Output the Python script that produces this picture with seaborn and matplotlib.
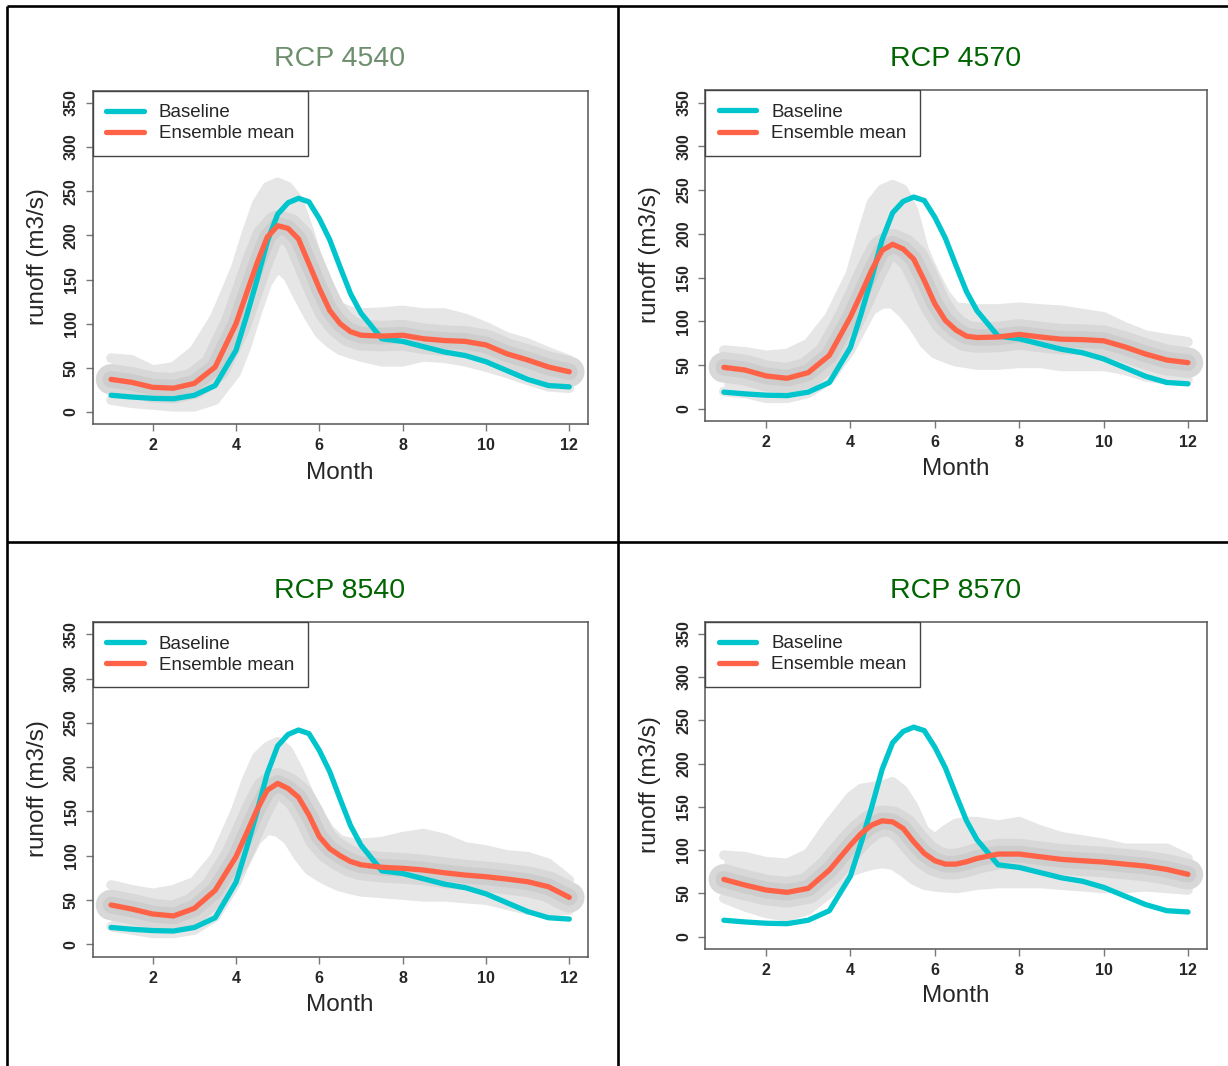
import matplotlib
matplotlib.use("Agg")
import matplotlib.pyplot as plt
from matplotlib.lines import Line2D
import seaborn as sns
import numpy as np

# Monthly grid (finer around the snow-melt peak)
months = [1, 1.5, 2, 2.5, 3, 3.5, 4, 4.25, 4.5, 4.75, 5, 5.25, 5.5, 5.75,
          6, 6.25, 6.5, 6.75, 7, 7.5, 8, 8.5, 9, 9.5, 10, 10.5, 11, 11.5, 12]

# Observed baseline runoff (m3/s)
baseline = [19, 17, 15.5, 15, 19, 30, 70, 108, 149, 193, 224, 237, 242, 238,
            219, 195, 164, 134, 112, 83, 80, 74, 68, 64, 57, 47, 37, 30, 28.5]

# RCP 4.5, 2040s
mean_4540 = [37, 33.6, 28, 27, 32.4, 51, 100, 134, 168, 198, 211, 208, 196, 168,
             140, 115, 100, 91, 87, 86, 87, 83, 81, 80, 76, 66, 59, 51, 45.6]
hi_4540 = [61, 59, 47.5, 51, 70, 108, 164, 202, 236, 255, 260, 255, 240, 206,
           168, 138, 119, 114, 112, 113, 115, 112, 112, 106, 96.5, 85, 78, 68, 59]
lo_4540 = [13.6, 10, 8, 6, 6, 13.6, 44, 74, 112, 146, 164, 153, 130, 108,
           89, 78, 70, 66, 62.5, 57, 57, 62.5, 61, 57, 51, 44, 36, 28.6, 27]

# RCP 4.5, 2070s
mean_4570 = [47.3, 44.3, 37.5, 34.8, 41.3, 61, 105, 131, 158, 181, 188, 182.6, 171, 146.6,
             120, 101, 90, 83, 81.4, 82, 85, 82, 79.5, 79, 77.7, 70.8, 62.5, 55.7, 52.7]
hi_4570 = [67, 65, 61, 63, 74.6, 105, 154, 196, 235.6, 250.8, 256, 250.8, 226, 181,
           154, 131, 116, 115, 114, 114, 116, 114, 112.5, 108.7, 105, 93.6, 84, 80, 76.5]
lo_4570 = [19.7, 17.8, 12, 12, 17.8, 33, 67, 90, 112.5, 120, 120, 108.7, 93.6, 74.6,
           63, 58, 53.8, 52, 50, 50, 52, 52, 48.5, 48.5, 48.5, 44.3, 36.7, 33, 33]

# RCP 8.5, 2040s
mean_8540 = [44.4, 39.8, 34.2, 32, 40.6, 61, 98.9, 125, 151.6, 174, 181.7, 176, 166, 146,
             121.5, 108, 100, 93.5, 89.8, 87, 85.8, 83.9, 80.8, 78.2, 76.3, 73.7, 70.7, 65, 53]
hi_8540 = [67, 61.5, 57.5, 61.5, 70.7, 98.9, 151.6, 185, 211.7, 223, 228.7, 219, 196.7, 170.4,
           147.8, 129, 117.7, 115, 114, 115.8, 121.4, 125, 119.6, 110, 106.4, 100.8, 98.9, 91.4, 72.6]
lo_8540 = [19.9, 16.2, 12.4, 12.4, 16.2, 31, 68.8, 95, 117.7, 129, 127, 117.7, 98.9, 83.9,
           76.3, 70, 65, 62, 59.4, 57.5, 55.6, 53.7, 53.7, 51.8, 50, 44.4, 38.7, 36.8, 38.7]

# RCP 8.5, 2070s
mean_8570 = [66.2, 59.6, 53.9, 51.2, 55.8, 76.9, 105.8, 119, 128.8, 133.8, 132.6, 125, 109.6, 96.2,
             87.7, 83.8, 83.8, 86.5, 90.4, 95.4, 95.4, 92.3, 89.3, 87.7, 86.2, 83.8, 81.5, 77.7, 72]
hi_8570 = [94, 92.3, 86.5, 84.6, 96.2, 130.8, 161.5, 171, 173, 175, 178.8, 169, 150, 123,
           113.5, 123, 130.8, 132.8, 132.8, 128.8, 132.8, 123, 115.3, 111.5, 107.7, 102, 102, 102, 90.4]
lo_8570 = [44.3, 34.6, 27, 23, 30.8, 50, 75, 78.9, 82.7, 84.6, 82.7, 75, 65.4, 59.6,
           57.7, 56.5, 55.8, 57.5, 59.6, 61.5, 61.5, 61.5, 59.6, 57.7, 55.8, 55.8, 57.7, 55.8, 53.9]

titles = ["RCP 4540", "RCP 4570", "RCP 8540", "RCP 8570"]
title_colors = ["#6E8F6E", "#006400", "#006400", "#006400"]
means = [mean_4540, mean_4570, mean_8540, mean_8570]
his = [hi_4540, hi_4570, hi_8540, hi_8570]
los = [lo_4540, lo_4570, lo_8540, lo_8570]

y_ticks = [0, 50, 100, 150, 200, 250, 300, 350]
x_ticks = [2, 4, 6, 8, 10, 12]

CYAN = "#00C5CD"
TOMATO = "#FF6347"

sns.set_style("white")
plt.rcParams["font.family"] = ["Liberation Sans", "DejaVu Sans"]

W, H = 1228, 1066
fig = plt.figure(figsize=(W / 100, H / 100), dpi=100)
fig.patch.set_facecolor("white")


def fx(px):
    return px / W


def fy(py):
    return 1 - py / H


# panel layout in pixels: (left, right, top, bottom)
boxes = [(92.7, 587.6, 90.6, 424.4),
         (705.3, 1206.5, 90.3, 421.0),
         (92.7, 587.6, 622.0, 956.7),
         (705.3, 1206.5, 621.5, 948.8)]
title_pos = [(340, 59), (956, 59), (340, 591), (956, 591)]
month_pos = [(340, 473), (956, 469), (340, 1005), (956, 996)]
ylab_pos = [(38, 257), (650, 255), (38, 789), (650, 785)]

round_kw = dict(solid_capstyle="round", solid_joinstyle="round")

for i in range(4):
    l, r, t, b = boxes[i]
    ax = fig.add_axes([fx(l), fy(b), fx(r) - fx(l), (b - t) / H])

    # ensemble spread: light envelope with a darker core along the mean
    ax.fill_between(months, los[i], his[i], color="#E6E6E6", lw=0, zorder=1)
    for edge in (los[i], his[i]):
        ax.plot(months, edge, color="#E6E6E6", lw=7, zorder=1, **round_kw)
    ax.plot(months, means[i], color="#D8D8D8", lw=22, zorder=2, **round_kw)
    ax.plot(months, means[i], color="#CDCDCD", lw=12, zorder=2, **round_kw)

    sns.lineplot(x=months, y=baseline, ax=ax, color=CYAN, lw=3.8,
                 estimator=None, sort=False, label="Baseline", zorder=4)
    sns.lineplot(x=months, y=means[i], ax=ax, color=TOMATO, lw=3.8,
                 estimator=None, sort=False, label="Ensemble mean", zorder=5)
    for ln in ax.get_lines()[-2:]:
        ln.set_solid_joinstyle("round")

    ax.set_xlim(0.56, 12.44)
    ax.set_ylim(-14, 364)
    ax.set_xticks(x_ticks)
    ax.set_xticklabels([str(v) for v in x_ticks], fontsize=11.5, fontweight="bold")
    ax.set_yticks(y_ticks)
    ax.set_yticklabels([str(v) for v in y_ticks], fontsize=11.5, fontweight="bold",
                       rotation=90, va="center")
    ax.tick_params(axis="both", direction="out", length=5, width=1,
                   color="#777777", pad=5, left=True, bottom=True)
    ax.set_xlabel("")
    ax.set_ylabel("")
    for sp in ax.spines.values():
        sp.set_visible(True)
        sp.set_color("#555555")
        sp.set_linewidth(1.1)

    leg = ax.legend(loc="upper left", borderaxespad=0, fontsize=13.5,
                    fancybox=False, framealpha=1, edgecolor="#444444",
                    handlelength=2.0, handletextpad=0.8, borderpad=0.72,
                    labelspacing=0.22)
    leg.get_frame().set_linewidth(1.0)
    for h in leg.get_lines():
        h.set_linewidth(3.8)

    fig.text(fx(title_pos[i][0]), fy(title_pos[i][1]), titles[i], fontsize=20.5,
             color=title_colors[i], ha="center", va="center")
    fig.text(fx(month_pos[i][0]), fy(month_pos[i][1]), "Month", fontsize=17.5,
             ha="center", va="center")
    fig.text(fx(ylab_pos[i][0]), fy(ylab_pos[i][1]), "runoff (m3/s)", fontsize=17.5,
             ha="center", va="center", rotation=90)

# black frame separating the four panels
frame = dict(color="black", lw=1.9, solid_capstyle="butt")
fig.add_artist(Line2D([fx(7), fx(W)], [fy(6), fy(6)], **frame))
fig.add_artist(Line2D([fx(7), fx(7)], [fy(6), fy(H)], **frame))
fig.add_artist(Line2D([fx(618), fx(618)], [fy(6), fy(H)], **frame))
fig.add_artist(Line2D([fx(7), fx(W)], [fy(542), fy(542)], **frame))

fig.savefig("out.png", dpi=100, facecolor="white")
